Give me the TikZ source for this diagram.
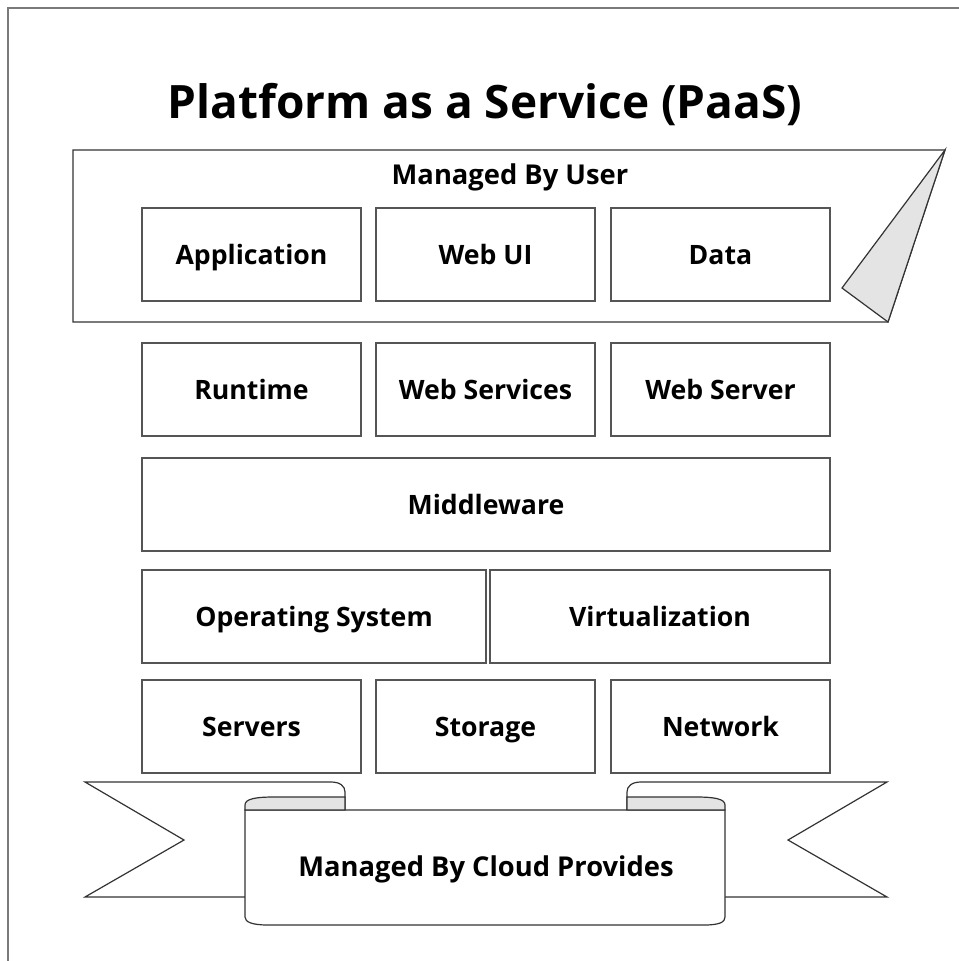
\documentclass[tikz,border=0pt]{standalone}
\usepackage{fontspec}
\setmainfont{Open Sans}
\definecolor{edge}{HTML}{555555}
\definecolor{frame}{HTML}{7A7A7A}
\definecolor{shade}{HTML}{E4E4E4}
\tikzset{
  box/.style={draw=edge, line width=1.1pt, fill=white, inner sep=0pt,
    font=\fontsize{20}{24}\selectfont\bfseries, text height=14.3pt, text depth=0pt},
  size/.style 2 args={minimum width=#1*0.75pt, minimum height=#2*0.75pt},
  caption/.style={font=\fontsize{20.5}{24}\selectfont\bfseries, text height=14.6pt, text depth=0pt, inner sep=0pt},
  outline/.style={draw=black!80, line width=0.9pt},
}
\begin{document}
\begin{tikzpicture}[x=0.75pt,y=-0.75pt]
\useasboundingbox (0,0) rectangle (959,961);
\clip (0,0) rectangle (959,961);
% page frame running off the right and bottom
\draw[frame, line width=1.5pt] (7.5,1000) -- (7.5,7.5) -- (1000,7.5);

% title
\node[font=\fontsize{34.5}{40}\selectfont\bfseries, anchor=base, inner sep=0pt] (title) at (485,118) {Platform as a Service (PaaS)};

% user-managed panel with folded corner
\draw[outline, fill=white] (73,150) -- (945,150) -- (888,322) -- (73,322) -- cycle;
\draw[outline, fill=shade] (945,150) -- (842,288) -- (888,322) -- cycle;
\node[caption] (user) at (510,175) {Managed By User};

% layers
\node[box, size={219}{93}] (app) at (251.5,254.5) {Application};
\node[box, size={219}{93}] (webui) at (485.5,254.5) {Web UI};
\node[box, size={219}{93}] (data) at (720.5,254.5) {Data};

\node[box, size={219}{93}] (runtime) at (251.5,389.5) {Runtime};
\node[box, size={219}{93}] (websvc) at (485.5,389.5) {Web Services};
\node[box, size={219}{93}] (websrv) at (720.5,389.5) {Web Server};

\node[box, size={688}{93}] (mid) at (486,504.5) {Middleware};

\node[box, size={344}{93}] (os) at (314,616.5) {Operating System};
\node[box, size={340}{93}] (virt) at (660,616.5) {Virtualization};

\node[box, size={219}{93}] (servers) at (251.5,726.5) {Servers};
\node[box, size={219}{93}] (storage) at (485.5,726.5) {Storage};
\node[box, size={219}{93}] (network) at (720.5,726.5) {Network};

% ribbon: back bands with forked tails
\draw[outline, fill=white] (85,782) -- (331,782) .. controls (340,782) and (345,786) .. (345,792)
  -- (345,897) -- (85,897) -- (184,840) -- cycle;
\draw[outline, fill=white] (887,782) -- (641,782) .. controls (632,782) and (627,786) .. (627,792)
  -- (627,897) -- (887,897) -- (788,840) -- cycle;
% ribbon: front panel
\draw[outline, fill=white] (245,810) -- (245,917) .. controls (245,922) and (252,925) .. (268,925)
  -- (704,925) .. controls (720,925) and (725,922) .. (725,917) -- (725,810) -- cycle;
% ribbon: curled ends
\draw[outline, fill=shade] (245,810) -- (245,805) .. controls (245,799) and (255,797) .. (274,797)
  -- (345,797) -- (345,810) -- cycle;
\draw[outline, fill=shade] (725,810) -- (725,805) .. controls (725,799) and (715,797) .. (696,797)
  -- (627,797) -- (627,810) -- cycle;
\node[caption] (cloud) at (486,867) {Managed By Cloud Provides};
\end{tikzpicture}
\end{document}
